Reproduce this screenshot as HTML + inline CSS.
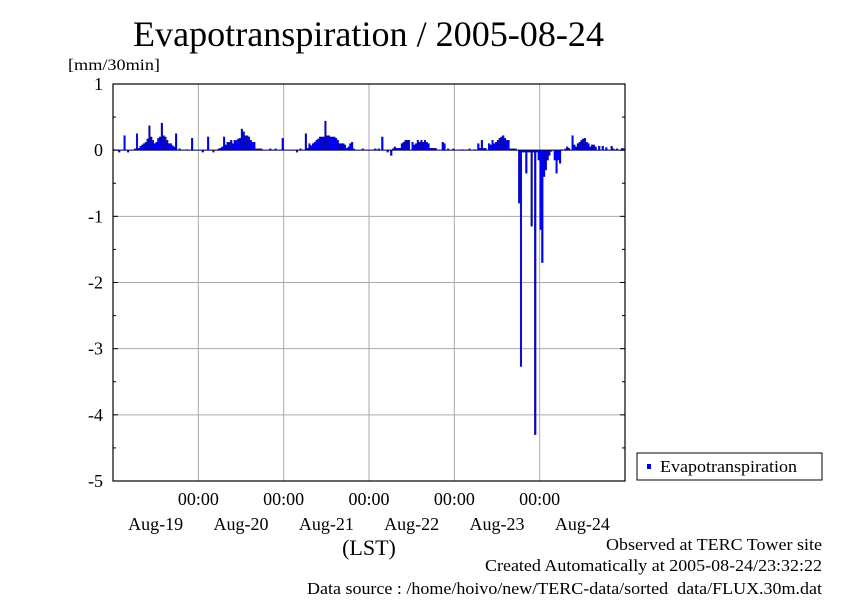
<!DOCTYPE html>
<html><head><meta charset="utf-8"><style>
body{margin:0;background:#fff;}
svg text{font-family:"Liberation Serif",serif;fill:#000;}
</style></head><body>
<svg width="842" height="595" viewBox="0 0 842 595" xmlns="http://www.w3.org/2000/svg">
<text x="133" y="46" font-size="36" textLength="471" lengthAdjust="spacingAndGlyphs">Evapotranspiration / 2005-08-24</text>
<text x="68" y="70" font-size="16" textLength="92" lengthAdjust="spacingAndGlyphs">[mm/30min]</text>
<g id="grid"></g>
<g id="bars"></g>
<rect x="113" y="84" width="512" height="397" fill="none" stroke="#000" stroke-width="1.2"/>
<g id="axes"></g>
<text x="369" y="555" font-size="22" text-anchor="middle">(LST)</text>
<g>
<rect x="637" y="453" width="185" height="27" fill="#fff" stroke="#000" stroke-width="1"/>
<rect x="647" y="464" width="4" height="5" fill="#0000ff"/>
<text x="660" y="472" font-size="17" textLength="137" lengthAdjust="spacingAndGlyphs">Evapotranspiration</text>
</g>
<text x="606" y="550" font-size="17" textLength="216" lengthAdjust="spacingAndGlyphs">Observed at TERC Tower site</text>
<text x="485" y="571" font-size="17" textLength="337" lengthAdjust="spacingAndGlyphs">Created Automatically at 2005-08-24/23:32:22</text>
<text x="307" y="594" font-size="17" textLength="515" lengthAdjust="spacingAndGlyphs">Data source : /home/hoivo/new/TERC-data/sorted_data/FLUX.30m.dat</text>
</svg>
<script>
const dayLabels=["Aug-19","Aug-20","Aug-21","Aug-22","Aug-23","Aug-24"];
const yTicks=[1,0,-1,-2,-3,-4,-5];
const day1=[0.01,0,0,-0.03,0,0,0.22,0,-0.03,0,0,0,0.02,0.25,0.03,0.06,0.08,0.1,0.12,0.17,0.37,0.2,0.15,0.1,0.12,0.18,0.2,0.41,0.22,0.2,0.15,0.1,0.1,0.07,0.05,0.25,0,0.02,0,0,0,0.01,0,0,0.18,0,0,0];
const day2=[0,0,-0.03,0,0,0.2,0,0,-0.03,0,0,0.02,0.03,0.05,0.2,0.08,0.12,0.12,0.15,0.1,0.15,0.15,0.17,0.18,0.32,0.28,0.22,0.22,0.2,0.15,0.12,0.12,0.02,0.02,0.02,0.02,0,0,0,0,0.02,0,0,0.02,0,0,0,0.18];
const day3=[0,0,0,0,0,0,0,-0.03,0,0.02,0,0,0.25,0.03,0.1,0.07,0.1,0.12,0.15,0.17,0.2,0.2,0.2,0.44,0.22,0.22,0.2,0.2,0.2,0.18,0.15,0.1,0.1,0.1,0.08,0.03,0.05,0.1,0.12,0.02,0,0,0,0,0.02,0,0,0];
const day4=[0,0,0,0.02,0,0.02,0,0.2,0,0,-0.03,0,-0.08,0.02,0.05,0.03,0.03,0.03,0.1,0.12,0.15,0.15,0.15,0,0.12,0.08,0.1,0.15,0.12,0.15,0.12,0.15,0.12,0.1,0.03,0.03,0.03,0.03,0,0,0,0.12,0.1,0,0.02,0,0,0.02];
const day5=[0,0,0,0,0.01,0,0,0,0.02,0,0,0.01,0,0.1,0.03,0.15,0.03,0.03,0,0.1,0.08,0.15,0.1,0.12,0.15,0.18,0.2,0.22,0.18,0.15,0.15,0.02,0.02,0.02,0.02,0,-0.8,-3.27,-0.03,-0.03,-0.35,-0.03,-0.03,-1.15,-0.03,-4.3,-0.03,-0.15];
const day6=[-1.2,-1.7,-0.4,-0.3,-0.15,-0.08,-0.02,0,-0.15,-0.35,-0.15,-0.2,0.01,0,0.02,0.05,0.03,0,0.22,0.08,0.05,0.1,0.12,0.15,0.17,0.18,0.12,0.1,0.05,0.08,0.08,0.05,0,0.06,0,0.06,0,0.04,0,0,0.06,0.02,0,0.02,0,0,0.03,0.02];
const values=[].concat(day1,day2,day3,day4,day5,day6);

const X0=113,X1=625,Y0=84,Y1=481,YMAX=1,YMIN=-5;
const n=values.length;
const xs=i=>X0+(X1-X0)*i/n;
const ys=v=>Y0+(YMAX-v)*(Y1-Y0)/(YMAX-YMIN);
const NS="http://www.w3.org/2000/svg";
function mk(tag,attrs,parent){const e=document.createElementNS(NS,tag);for(const k in attrs)e.setAttribute(k,attrs[k]);parent.appendChild(e);return e;}
const grid=document.getElementById('grid'),bars=document.getElementById('bars'),axes=document.getElementById('axes');
const dayW=(X1-X0)/dayLabels.length;
yTicks.forEach(t=>{
  const y=ys(t);
  const l=mk('line',{x1:X0,x2:X1,y1:y,y2:y,stroke:'#aaa','stroke-width':1},grid);
  
  
  const tx=mk('text',{x:103,y:y+6,'font-size':18,'text-anchor':'end'},axes);
  tx.textContent=String(t);
  
  
  [X0,X1-5].forEach(x=>{const k=mk('line',{x1:x,x2:x+5,y1:y,y2:y,stroke:'#000'},axes);
  
  });
  if(t>YMIN){const ym=ys(t-0.5);[X0,X1-3].forEach(x=>{const k=mk('line',{x1:x,x2:x+3,y1:ym,y2:ym,stroke:'#000'},axes);
  
  });}
});
dayLabels.forEach((d,i)=>{
  const xc=X0+dayW*(i+0.5);
  const t=mk('text',{x:xc,y:530,'font-size':18,'text-anchor':'middle'},axes);
  t.textContent=d;
  
  
  if(i>0){
    const x=X0+dayW*i;
    const g=mk('line',{x1:x,x2:x,y1:Y0,y2:Y1,stroke:'#aaa'},grid);
    
    
    const tt=mk('text',{x:x,y:505,'font-size':18,'text-anchor':'middle'},axes);
    tt.textContent='00:00';
    
    
  }
});
values.forEach((v,i)=>{
  if(v===0)return;
  const y0=ys(0),y=ys(v);
  const r=mk('rect',{x:xs(i),y:Math.min(y0,y),width:(X1-X0)/n,height:Math.max(Math.abs(y-y0),0.8),fill:'#0000ff',stroke:'#000060','stroke-width':0.3},bars);
  
  
});
const z=mk('line',{x1:X0,x2:X1,y1:ys(0),y2:ys(0),stroke:'#000060','stroke-width':1},bars);


</script>
</body></html>
